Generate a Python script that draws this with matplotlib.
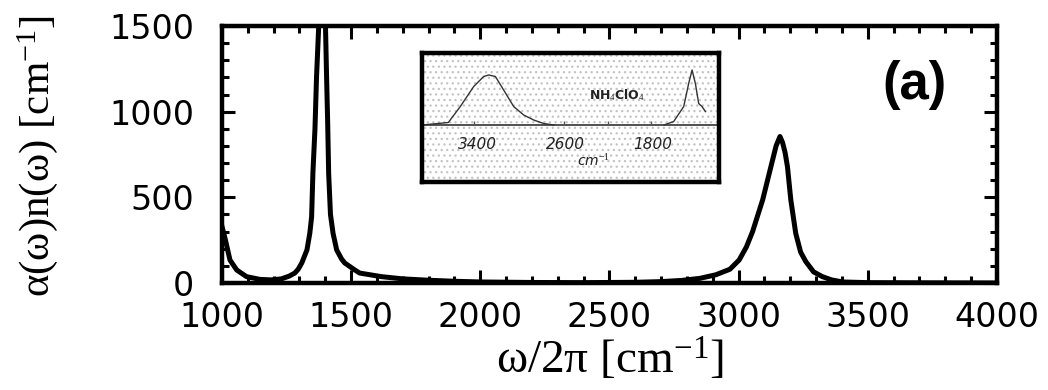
import numpy as np
import matplotlib
matplotlib.use("Agg")
import matplotlib.pyplot as plt
from matplotlib.patches import Rectangle

# main spectrum
freq = [1000, 1012, 1031, 1057, 1095, 1147, 1190, 1230, 1260, 1282, 1295, 1309,
        1329, 1340, 1347, 1352, 1360, 1366, 1376, 1388, 1400, 1405, 1409, 1413,
        1420, 1430, 1444, 1463, 1475, 1514, 1533, 1617, 1700, 1800, 1900, 2000,
        2200, 2400, 2600, 2700, 2780, 2850, 2912, 2966, 3002, 3030, 3054, 3093,
        3125, 3145, 3160, 3170, 3180, 3189, 3202, 3221, 3240, 3260, 3290, 3324,
        3360, 3402, 3500, 3700, 4000]
absorb = [330, 260, 134, 76, 37, 21, 18, 24, 40, 58, 80, 117,
          193, 290, 385, 642, 900, 1200, 1550, 2200, 1550, 1200, 950, 640,
          400, 290, 193, 140, 117, 76, 58, 37, 24, 16, 10, 6,
          3, 2, 4, 8, 15, 27, 48, 80, 134, 210, 300, 485,
          679, 800, 855, 820, 760, 679, 485, 290, 180, 125, 65, 37,
          18, 6, 2, 1, 0]

xticks = [1000, 1500, 2000, 2500, 3000, 3500, 4000]
yticks = [0, 500, 1000, 1500]

# inset: scanned experimental spectrum (NH4ClO4)
ins_freq1 = [3900, 3661, 3552, 3430, 3340, 3294, 3233, 3158, 3067, 2976, 2885, 2794, 2700]
ins_val1 = [0.0, 0.05, 0.37, 0.77, 0.97, 1.0, 0.97, 0.70, 0.37, 0.20, 0.10, 0.03, 0.0]
ins_freq2 = [1700, 1612, 1521, 1476, 1445, 1415, 1385, 1355, 1324]
ins_val2 = [0.0, 0.07, 0.37, 0.83, 1.1, 0.83, 0.43, 0.37, 0.27]
ins_labels = [3400, 2600, 1800]
ins_marks = [3430, 2610, 2210, 1820]

plt.rcParams['font.family'] = ['DejaVu Sans']
plt.rcParams['mathtext.fontset'] = 'custom'
plt.rcParams['mathtext.rm'] = 'Liberation Serif'
plt.rcParams['mathtext.it'] = 'Liberation Serif:italic'
plt.rcParams['hatch.linewidth'] = 0.9

fig = plt.figure(figsize=(10.48, 3.9), dpi=100)
ax = fig.add_axes([0.2118, 0.2744, 0.7395, 0.659])

ax.plot(freq, absorb, color='black', lw=3.6, solid_joinstyle='round')
ax.set_xlim(1000, 4000)
ax.set_ylim(0, 1500)
ax.set_xticks(xticks)
ax.set_yticks(yticks)
ax.set_xticks(np.arange(1000, 4001, 100), minor=True)
ax.set_yticks(np.arange(0, 1501, 100), minor=True)
ax.tick_params(which='both', direction='in', top=True, right=True, width=2.2)
ax.tick_params(which='major', length=9.5, labelsize=24)
ax.tick_params(which='minor', length=5)
ax.tick_params(axis='x', pad=13)
ax.tick_params(axis='y', pad=20)
for s in ax.spines.values():
    s.set_linewidth(3.2)

serif = ['Liberation Serif', 'DejaVu Serif']
fig.text(609.5 / 1048, 1 - 360 / 390, 'ω/2π [cm$^{-1}$]', family=serif,
         fontsize=34, ha='center', va='center')
fig.text(38 / 1048, 1 - 156 / 390, 'α(ω)n(ω) [cm$^{-1}$]', family=serif,
         fontsize=31, ha='center', va='center', rotation=90)

ax.text(0.893, 0.770, '(a)', transform=ax.transAxes, fontsize=38,
        fontweight='bold', family=['Liberation Sans'], ha='center', va='center')

# inset
ax2 = fig.add_axes([0.4027, 0.5333, 0.2834, 0.3308])
ax2.add_patch(Rectangle((0, 0), 1, 1, transform=ax2.transAxes, hatch='...',
                        fill=False, edgecolor='#c4c4c4', lw=0, zorder=0))
ax2.set_xlim(3900, 1200)
ax2.set_ylim(-1.14, 1.44)
ax2.axhline(0, color='#333333', lw=1.2)
ax2.plot(ins_freq1, ins_val1, color='#333333', lw=1.0)
ax2.plot(ins_freq2, ins_val2, color='#333333', lw=1.0)
ax2.vlines(ins_marks, 0, 0.08, color='#555555', lw=1.0)
for v in ins_labels:
    ax2.text(v, -0.38, str(v), fontsize=11, style='italic', ha='center',
             va='center', color='#222222')
ax2.text(2343, -0.72, 'cm$^{-1}$', fontsize=10, style='italic', ha='center',
         va='center', color='#222222', family=['DejaVu Sans'])
ax2.text(2127, 0.6, 'NH$_4$ClO$_4$', fontsize=9, fontweight='bold', ha='center',
         va='center', color='#222222', family=['DejaVu Sans'])
ax2.set_xticks([])
ax2.set_yticks([])
for s in ax2.spines.values():
    s.set_linewidth(3.2)

fig.savefig('out.png', dpi=100)
